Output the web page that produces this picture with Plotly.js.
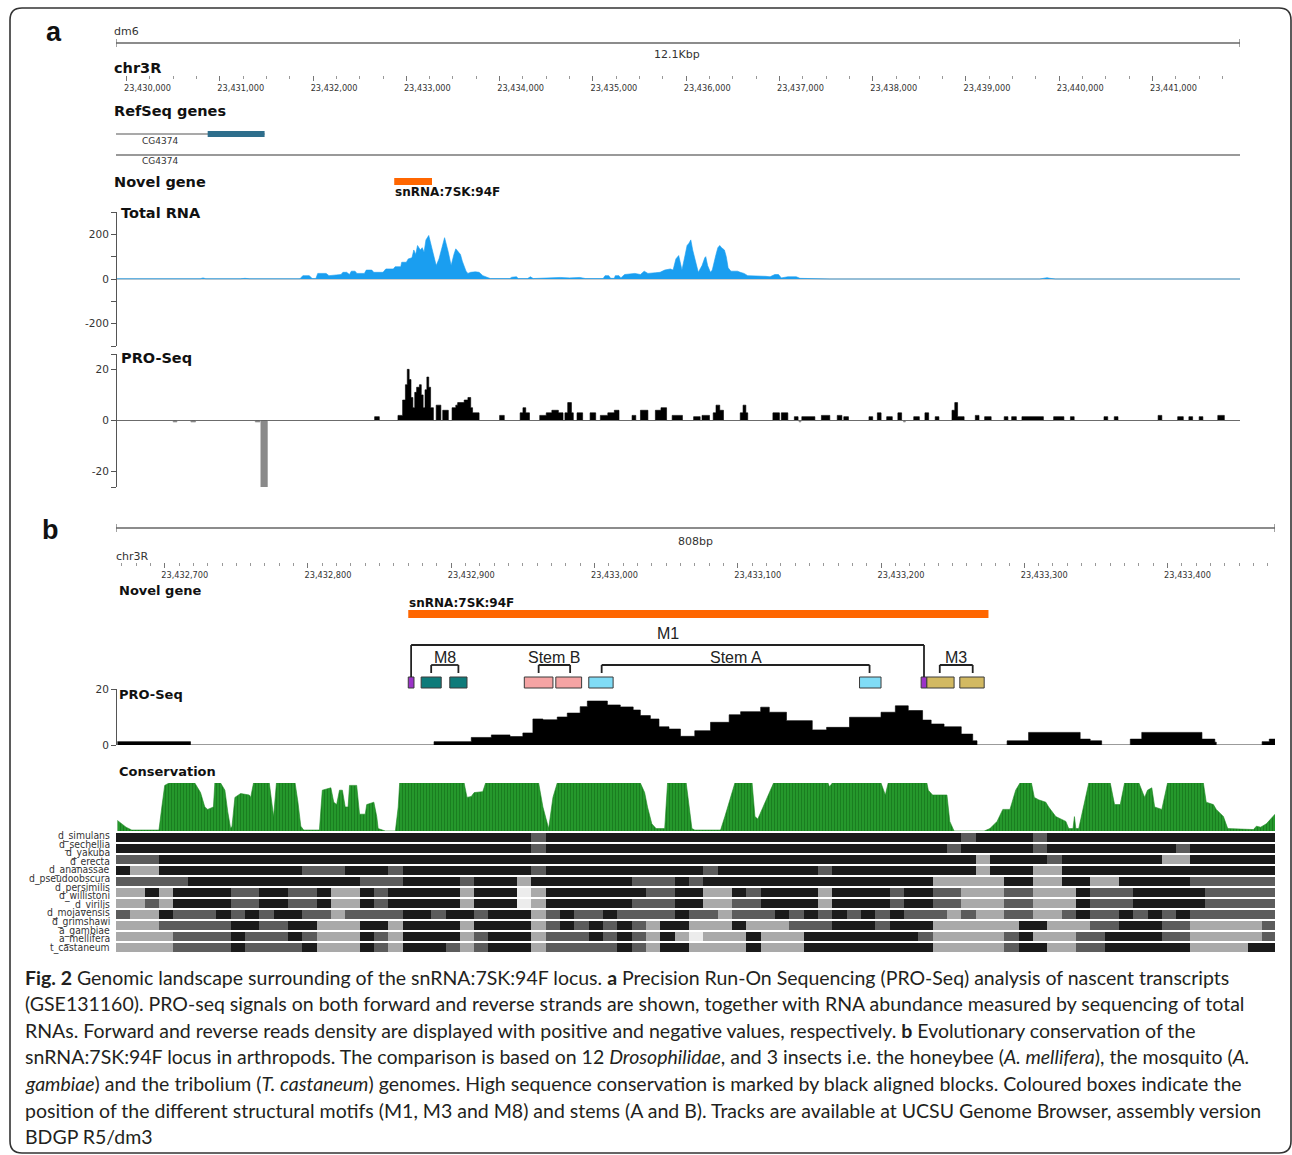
<!DOCTYPE html>
<html><head><meta charset="utf-8">
<script src="https://cdn.plot.ly/plotly-3.0.1.min.js"></script>
<style>html,body{margin:0;padding:0;background:#fff}#chart{width:1292px;height:1155px}</style>
</head><body><div id="chart"></div>
<script>
// ===================== DATA =====================
// Panel a window (chr3R, dm6)
const windowA = [23429887, 23441938];
// Panel b window
const windowB = [23432666, 23433475];

// RefSeq transcripts (panel a)
const refseqName = ['CG4374', 'CG4374'];
const refseqTxStart = [23427500, 23427500];
const refseqTxEnd = [23431480, 23443000];
const refseqExonStart = [23430870, null];
const refseqExonEnd = [23431480, null];

// Novel gene
const novelName = 'snRNA:7SK:94F';
const novelStart = 23432870;
const novelEnd = 23433275;

// Total RNA coverage (panel a)
const rnaPos = [23429887,23430250,23430330,23430380,23430790,23430820,23430850,23431220,23431270,23431320,
23431450,23431480,23431730,23431770,23431860,23431890,23431960,23431990,23432030,23432050,
23432140,23432170,23432300,23432320,23432360,23432390,23432410,23432450,23432470,23432550,
23432570,23432630,23432650,23432750,23432780,23432860,23432880,23432940,23432950,23433000,
23433020,23433060,23433080,23433100,23433120,23433150,23433170,23433190,23433210,23433240,
23433260,23433290,23433320,23433350,23433370,23433390,23433410,23433450,23433480,23433510,
23433530,23433550,23433580,23433600,23433620,23433640,23433660,23433690,23433740,23433780,
23433820,23433870,23433900,23434110,23434130,23434180,23434200,23434300,23434330,23434360,
23434430,23434490,23434540,23434650,23434750,23434860,23434920,23435110,23435130,23435170,
23435190,23435230,23435240,23435280,23435300,23435340,23435450,23435510,23435550,23435590,
23435670,23435720,23435770,23435830,23435860,23435890,23435920,23435940,23435955,23435990,
23436010,23436030,23436050,23436070,23436100,23436130,23436150,23436170,23436200,23436210,
23436230,23436260,23436280,23436300,23436320,23436340,23436360,23436380,23436410,23436430,
23436450,23436480,23436550,23436580,23436620,23436660,23436790,23436850,23436900,23436950,
23436990,23437020,23437090,23437180,23437220,23437330,23437490,23437540,23439790,23439840,
23439870,23439900,23439960,23441938];
const rnaVal = [1,1,3,1,1,5,1,1,3,1,
1,4,4,1,1,15,15,2,2,25,
25,15,20,30,30,20,35,35,25,25,
40,40,30,30,45,45,55,55,75,75,
90,95,130,110,150,130,140,120,175,195,
160,120,60,90,120,150,185,120,60,110,
135,125,110,80,60,35,25,30,32,30,
15,6,2,2,8,10,2,2,10,2,
3,6,4,7,5,7,2,2,15,15,
3,3,15,15,5,20,25,20,35,25,
28,30,40,45,40,90,105,60,40,110,
150,160,175,130,80,30,45,60,95,100,
60,30,40,80,110,140,150,140,130,100,
50,35,35,30,25,15,15,12,10,20,
20,5,10,10,3,2,2,0,0,3,
6,3,0,0];

// PRO-Seq forward strand (panel a), step values
const proFwdPos = [23429887,23432660,23432710,23432910,23432960,23432990,23433010,23433030,23433050,23433070,
23433090,23433110,23433140,23433160,23433180,23433200,23433220,23433240,23433260,23433290,
23433320,23433370,23433390,23433450,23433490,23433530,23433550,23433620,23433660,23433690,
23433710,23433780,23434000,23434050,23434220,23434250,23434280,23434320,23434430,23434500,
23434560,23434630,23434680,23434700,23434730,23434770,23434790,23434830,23434890,23434970,
23435030,23435080,23435160,23435230,23435280,23435420,23435460,23435510,23435590,23435670,
23435730,23435790,23435850,23435960,23436080,23436150,23436170,23436250,23436290,23436320,
23436360,23436400,23436580,23436610,23436640,23436660,23436930,23437000,23437020,23437090,
23437160,23437200,23437240,23437380,23437450,23437540,23437620,23437670,23437690,23437740,
23437960,23438000,23438050,23438090,23438150,23438210,23438270,23438310,23438440,23438500,
23438560,23438600,23438670,23438710,23438850,23438880,23438910,23438980,23439100,23439140,
23439200,23439270,23439410,23439450,23439490,23439540,23439600,23439830,23439940,23440050,
23440120,23440160,23440480,23440520,23440590,23440630,23441060,23441100,23441270,23441330,
23441390,23441430,23441500,23441540,23441700,23441770,23441938];
const proFwdVal = [0,1.5,0,2,8,14,20,16,9,5,
11,13,14,10,5,12,17,13,5,0,
6,0,4,0,5,6,7,8,9,5,
3,0,2,0,3,5,3,0,2,3,
4,3,0,3,7,3,0,3,0,3,
0,2,3,4,0,2,0,4,0,4,
5,0,2,0,1.5,0,2,0,3,6,
4,0,3,6,3,0,3,0,3,0,
1.5,0,1.5,0,2,0,2,0,1.5,0,
1.5,0,3,0,1.5,0,3,0,1.5,0,
3,0,1.5,0,4,7,1.5,0,2,0,
1.5,0,1.5,0,1.5,0,1.5,0,1.5,0,
1.5,0,1.5,0,1.5,0,2,0,1.5,0,
1.5,0,1.5,0,2,0,0];

// PRO-Seq reverse strand (panel a)
const proRevPos = [23429887,23430500,23430540,23430690,23430740,23431380,23431430,23431440,23431510,23437210,23437230,23438330,23438350,23441938];
const proRevVal = [0,-0.6,0,-0.6,0,-0.6,0,-27,0,-0.6,0,-0.6,0,0];

// PRO-Seq (panel b), step values
const proBPos = [23432667,23432718,23432888,23432914,23432928,23432941,23432950,23432957,23432964,23432974,
23432981,23432990,23432995,23433009,23433018,23433027,23433032,23433039,23433045,23433052,
23433060,23433070,23433081,23433094,23433102,23433116,23433122,23433134,23433152,23433162,
23433178,23433200,23433210,23433219,23433229,23433235,23433244,23433256,23433264,23433267,
23433288,23433303,23433339,23433346,23433354,23433374,23433382,23433424,23433433,23433434,
23433466,23433471,23433475];
const proBVal = [1.2,0,1.2,2.7,3.6,3.0,4.3,9.3,9.0,10,
11.4,13.7,15.7,14.3,13.6,12.5,10.5,9.3,6.5,5.7,
3.1,5.1,8.1,10.8,11.9,13.5,11.7,8.7,5.4,6.3,
9.9,11.7,14.0,12.3,8.9,7.5,6.5,3.9,1.5,0,
1.5,4.5,2.1,1.5,0,2.1,4.5,2.1,1.0,0,
1.2,2.1,2.1];

// Conservation (panel b), 0..1
const consPos = [23432667,23432673,23432677,23432696,23432698,23432700,23432703,23432721,23432723,23432725,
23432728,23432730,23432734,23432735,23432739,23432742,23432744,23432746,23432747,23432749,
23432753,23432759,23432760,23432762,23432773,23432775,23432776,23432778,23432791,23432793,
23432795,23432797,23432808,23432810,23432816,23432818,23432820,23432822,23432824,23432826,
23432828,23432829,23432834,23432836,23432840,23432841,23432846,23432848,23432849,23432854,
23432861,23432863,23432864,23432909,23432911,23432914,23432916,23432922,23432924,23432961,
23432964,23432968,23432969,23432971,23432974,23433032,23433035,23433037,23433040,23433043,
23433049,23433051,23433064,23433066,23433068,23433070,23433088,23433091,23433095,23433098,
23433110,23433112,23433114,23433117,23433119,23433122,23433125,23433163,23433164,23433166,
23433200,23433203,23433205,23433232,23433233,23433236,23433246,23433248,23433251,23433272,
23433276,23433281,23433285,23433290,23433294,23433297,23433305,23433307,23433310,23433315,
23433317,23433322,23433329,23433331,23433334,23433335,23433336,23433338,23433342,23433345,
23433360,23433363,23433367,23433370,23433380,23433384,23433386,23433389,23433391,23433396,
23433400,23433425,23433427,23433432,23433434,23433439,23433442,23433460,23433462,23433465,
23433469,23433475];
const consVal = [0.22,0.08,0.02,0.02,0.5,0.95,1,1,0.9,0.8,
0.5,0.45,0.5,1,1,0.85,0.4,0.05,0.1,0.7,
0.78,0.75,0.7,1,1,0.5,0.3,1,1,0.6,
0.1,0.02,0.02,0.85,0.9,0.6,0.55,0.85,0.85,0.5,
0.5,0.95,0.95,0.35,0.35,0.55,0.6,0.3,0.05,0,
0,0.5,1,1,0.7,0.72,0.8,0.82,1,1,
0.5,0.05,0.3,0.7,1,1,0.8,0.5,0.15,0.05,
0.05,1,1,0.5,0.05,0.02,0.02,0.3,0.7,1,
1,0.3,0.25,0.45,0.6,0.8,1,1,0.92,1,
1,0.75,1,1,0.85,0.75,0.75,0.2,0,0,
0.05,0.2,0.45,0.45,0.85,1,1,0.7,0.65,0.6,
0.5,0.3,0.2,0.05,0.05,0.3,0.05,0.05,0.6,1,
1,0.55,0.55,1,1,0.7,0.85,0.9,0.5,0.45,
1,1,0.6,0.55,0.45,0.3,0.05,0.03,0.1,0.08,
0.15,0.35];

// Structural motifs (panel b)
const motifType = ['M1','M8','M8','StemB','StemB','StemA','StemA','M1','M3','M3'];
const motifStart = [23432870,23432879,23432899,23432951,23432973,23432996,23433185,23433228,23433232,23433255];
const motifEnd   = [23432874,23432893,23432911,23432971,23432991,23433013,23433200,23433232,23433251,23433272];
const bracketLabel = ['M1','M8','Stem B','Stem A','M3'];
const bracketStart = [23432872,23432886,23432961,23433005,23433241];
const bracketEnd   = [23433230,23432905,23432983,23433192,23433264];
const bracketLevel = [1,0,0,0,0];

// Multiz alignment (panel b): 0 none, 1 weak, 2 partial, 3 strong; 10-bp bins
const alnBinStart = 23432666;
const alnBinSize = 10;
const alignmentRows = [
 "3333333333"+"3333333333"+"3333333332"+"3333333333"+"3333333333"+"3333333332"+"3333233333"+"3333333333"+"3",
 "3333333333"+"3333333333"+"3333333332"+"3333333333"+"3333333333"+"3333333323"+"3333233333"+"3333233333"+"3",
 "2223333333"+"3333333333"+"3333333333"+"3333333333"+"3333333333"+"3333333333"+"1333323333"+"3331133333"+"3",
 "3113333333"+"3332223332"+"3333333332"+"3333333333"+"3233333332"+"3333333333"+"1333113333"+"3333333333"+"3",
 "2222233333"+"3333333222"+"3333233313"+"3333332223"+"2333333333"+"3333333111"+"1133113311"+"3333322222"+"2",
 "1131333322"+"3322311323"+"3333133301"+"3333333223"+"3113233331"+"3333233221"+"1122111322"+"2333332222"+"2",
 "1121333322"+"3322311323"+"3333133301"+"3333332223"+"3112233331"+"3333233221"+"1122111322"+"2333332222"+"2",
 "2113222323"+"2332212222"+"3323323331"+"2322322223"+"2212223232"+"3232322212"+"1122112322"+"3232322222"+"2",
 "1112222233"+"2233111331"+"3333133331"+"2323232133"+"1113111222"+"3332333111"+"1113311122"+"3332211111"+"2",
 "1111222232"+"2232111321"+"3333123331"+"2223232131"+"0111311133"+"3333332111"+"1123111223"+"3332211111"+"2",
 "1111222232"+"2223111321"+"3332123331"+"2222232133"+"1111311133"+"3333333111"+"1123311223"+"3333311113"+"3"
];
const species = ['d_simulans','d_sechellia','d_yakuba','d_erecta','d_ananassae','d_pseudoobscura','d_persimilis',
 'd_willistoni','d_virilis','d_mojavensis','d_grimshawi','a_gambiae','a_mellifera','t_castaneum'];

const captionLines = [
 "<b>Fig. 2</b> Genomic landscape surrounding of the snRNA:7SK:94F locus. <b>a</b> Precision Run-On Sequencing (PRO-Seq) analysis of nascent transcripts",
 "(GSE131160). PRO-seq signals on both forward and reverse strands are shown, together with RNA abundance measured by sequencing of total",
 "RNAs. Forward and reverse reads density are displayed with positive and negative values, respectively. <b>b</b> Evolutionary conservation of the",
 "snRNA:7SK:94F locus in arthropods. The comparison is based on 12 <i>Drosophilidae</i>, and 3 insects i.e. the honeybee (<i>A. mellifera</i>), the mosquito (<i>A.</i>",
 "<i>gambiae</i>) and the tribolium (<i>T. castaneum</i>) genomes. High sequence conservation is marked by black aligned blocks. Coloured boxes indicate the",
 "position of the different structural motifs (M1, M3 and M8) and stems (A and B). Tracks are available at UCSU Genome Browser, assembly version",
 "BDGP R5/dm3"
];

// ===================== STYLE / LAYOUT =====================
const W = 1292, H = 1155;
const px = x => x / W;
const py = y => 1 - y / H;
const dom = (top, bottom) => [1 - bottom / H, 1 - top / H];
const SANS = 'DejaVu Sans, Verdana, sans-serif';
const ARIAL = 'Liberation Sans, Arial, sans-serif';
const NARROW = 'Liberation Sans Narrow, DejaVu Sans Condensed, Arial Narrow, sans-serif';
const motifColor = {M1:'#9b33c8', M8:'#0e7b7a', StemB:'#f5a4a4', StemA:'#80dcf6', M3:'#d2b962'};

const traces = [];
// anchors for rulers
traces.push({type:'scatter', x:[windowA[0]], y:[0.5], xaxis:'x', yaxis:'y', mode:'markers', marker:{opacity:0}, hoverinfo:'skip'});
traces.push({type:'scatter', x:[windowB[0]], y:[0.5], xaxis:'x2', yaxis:'y5', mode:'markers', marker:{opacity:0}, hoverinfo:'skip'});

// Total RNA
traces.push({type:'scatter', x:rnaPos, y:rnaVal, xaxis:'x', yaxis:'y2', mode:'lines',
  line:{color:'#1a9ef0', width:0.6}, fill:'tozeroy', fillcolor:'#1a9ef0', hoverinfo:'skip'});
// PRO-Seq panel a
traces.push({type:'scatter', x:proFwdPos, y:proFwdVal, xaxis:'x', yaxis:'y3', mode:'lines',
  line:{color:'#000', width:0.6, shape:'hv'}, fill:'tozeroy', fillcolor:'#000', hoverinfo:'skip'});
traces.push({type:'scatter', x:proRevPos, y:proRevVal, xaxis:'x', yaxis:'y3', mode:'lines',
  line:{color:'#8a8a8a', width:0.6, shape:'hv'}, fill:'tozeroy', fillcolor:'#8a8a8a', hoverinfo:'skip'});
// RefSeq genes
refseqName.forEach((n, i) => {
  traces.push({type:'scatter', x:[refseqTxStart[i], refseqTxEnd[i]], y:[i, i], xaxis:'x', yaxis:'y4',
    mode:'lines', line:{color: i === 0 ? '#555' : '#777', width: i === 0 ? 1.2 : 1.6}, hoverinfo:'skip'});
  if (refseqExonStart[i] !== null) {
    traces.push({type:'scatter', x:[refseqExonStart[i], refseqExonEnd[i]], y:[i, i], xaxis:'x', yaxis:'y4',
      mode:'lines', line:{color:'#2e6e8c', width:6}, hoverinfo:'skip'});
  }
});
// PRO-Seq panel b
traces.push({type:'scatter', x:proBPos, y:proBVal, xaxis:'x2', yaxis:'y6', mode:'lines',
  line:{color:'#000', width:0.6, shape:'hv'}, fill:'tozeroy', fillcolor:'#000', hoverinfo:'skip'});
// Conservation
traces.push({type:'scatter', x:consPos, y:consVal, xaxis:'x2', yaxis:'y7', mode:'lines',
  line:{color:'#1d8a22', width:0.6}, fill:'tozeroy', fillcolor:'#22942a',
  fillpattern:{shape:'|', fgcolor:'#17761c', bgcolor:'#25982c', size:3, solidity:0.25}, hoverinfo:'skip'});
// Alignment heatmap
const alnZ = alignmentRows.map(s => s.split('').map(Number));
const alnX = alnZ[0].map((_, i) => alnBinStart + alnBinSize * (i + 0.5));
traces.push({type:'heatmap', x:alnX, y:alnZ.map((_, i) => i), z:alnZ, xaxis:'x2', yaxis:'y8',
  zmin:0, zmax:3, showscale:false, ygap:2, xgap:0, hoverinfo:'skip',
  colorscale:[[0,'#ececec'],[0.1667,'#ececec'],[0.1667,'#a9a9a9'],[0.5,'#a9a9a9'],[0.5,'#5c5c5c'],[0.8333,'#5c5c5c'],[0.8333,'#1b1b1b'],[1,'#1b1b1b']]});

const hidden = (d, r) => ({domain:d, range:r, visible:false, fixedrange:true});
const trackY = (d, r, tv, tt) => ({domain:d, range:r, anchor:'free', position:px(116), showline:true, linecolor:'#555', linewidth:1,
  ticks:'outside', ticklen:5, tickcolor:'#555', tickwidth:1, tickvals:tv, ticktext:tt, showgrid:false, zeroline:false,
  tickfont:{family:SANS, size:10.5, color:'#333'}, fixedrange:true});

const shapes = [];
// frame
(() => {
  const r = 12, L = 10, T = 8, R = 1291, B = 1153;
  const p = `M ${px(L)},${py(T + r)} Q ${px(L)},${py(T)} ${px(L + r)},${py(T)} L ${px(R - r)},${py(T)} Q ${px(R)},${py(T)} ${px(R)},${py(T + r)} L ${px(R)},${py(B - r)} Q ${px(R)},${py(B)} ${px(R - r)},${py(B)} L ${px(L + r)},${py(B)} Q ${px(L)},${py(B)} ${px(L)},${py(B - r)} Z`;
  shapes.push({type:'path', xref:'paper', yref:'paper', path:p, line:{color:'#333', width:1.6}});
})();
// rulers
function ruler(xref, win, y) {
  shapes.push({type:'line', xref, yref:'paper', x0:win[0], x1:win[1], y0:py(y), y1:py(y), line:{color:'#666', width:1.6}});
  shapes.push({type:'line', xref, yref:'paper', x0:win[0], x1:win[0], y0:py(y - 4), y1:py(y + 4), line:{color:'#666', width:1.2}});
  shapes.push({type:'line', xref, yref:'paper', x0:win[1], x1:win[1], y0:py(y - 4), y1:py(y + 4), line:{color:'#666', width:1.2}});
}
ruler('x', windowA, 43);
ruler('x2', windowB, 528);
// zero lines
shapes.push({type:'line', xref:'x', yref:'y2', x0:windowA[0], x1:windowA[1], y0:0, y1:0, line:{color:'#9a9a9a', width:1.2}, layer:'below'});
shapes.push({type:'line', xref:'x', yref:'y3', x0:windowA[0], x1:windowA[1], y0:0, y1:0, line:{color:'#9a9a9a', width:1.2}, layer:'below'});
shapes.push({type:'line', xref:'x2', yref:'y6', x0:windowB[0], x1:windowB[1], y0:0, y1:0, line:{color:'#bbb', width:1.2}, layer:'below'});
// novel gene bars
shapes.push({type:'rect', xref:'x', yref:'paper', x0:novelStart, x1:novelEnd, y0:py(185), y1:py(178), fillcolor:'#ff6600', line:{width:0}});
shapes.push({type:'rect', xref:'x2', yref:'paper', x0:novelStart, x1:novelEnd, y0:py(618), y1:py(610), fillcolor:'#ff6600', line:{width:0}});
// motif boxes
motifType.forEach((t, i) => {
  shapes.push({type:'rect', xref:'x2', yref:'paper', x0:motifStart[i], x1:motifEnd[i], y0:py(688), y1:py(677),
    fillcolor:motifColor[t], line:{color:'#3a3a3a', width:1}});
});
// brackets
const annotations = [];
bracketLabel.forEach((lab, i) => {
  const top = bracketLevel[i] ? 645 : 665;
  const bot = bracketLevel[i] ? 677 : 673;
  const ln = {color:'#222', width:1.8};
  shapes.push({type:'line', xref:'x2', yref:'paper', x0:bracketStart[i], x1:bracketEnd[i], y0:py(top), y1:py(top), line:ln});
  shapes.push({type:'line', xref:'x2', yref:'paper', x0:bracketStart[i], x1:bracketStart[i], y0:py(top), y1:py(bot), line:ln});
  shapes.push({type:'line', xref:'x2', yref:'paper', x0:bracketEnd[i], x1:bracketEnd[i], y0:py(top), y1:py(bot), line:ln});
  annotations.push({xref:'x2', yref:'paper', x:(bracketStart[i] + bracketEnd[i]) / 2, y:py(bracketLevel[i] ? 633 : 657), text:lab, showarrow:false,
    xanchor:'center', yanchor:'middle', font:{family:ARIAL, size:16, color:'#222'}});
});

function txt(x, y, text, size, opts = {}) {
  annotations.push({xref:opts.xref || 'paper', yref:'paper', x:opts.xref ? x : px(x), y:py(y), text, showarrow:false,
    xanchor:opts.anchor || 'left', yanchor:'middle', borderpad:0,
    font:{family:opts.family || SANS, size, color:opts.color || '#222'}});
}
txt(54, 32, '<b>a</b>', 27, {anchor:'center', family:ARIAL, color:'#111'});
txt(113, 32, 'dm6', 11, {color:'#333'});
txt(677, 54, '12.1Kbp', 11, {anchor:'center', color:'#333'});
txt(113, 68, '<b>chr3R</b>', 14.5, {color:'#111'});
txt(113, 111, '<b>RefSeq genes</b>', 14.5, {color:'#111'});
txt(160, 141, refseqName[0], 9, {anchor:'center', color:'#333'});
txt(160, 161, refseqName[1], 9, {anchor:'center', color:'#333'});
txt(113, 182, '<b>Novel gene</b>', 14.5, {color:'#111'});
txt(novelStart, 192, '<b>' + novelName + '</b>', 12, {xref:'x', color:'#111'});
txt(120, 213, '<b>Total RNA</b>', 14.5, {color:'#111'});
txt(120, 358, '<b>PRO-Seq</b>', 14.5, {color:'#111'});
txt(50, 530, '<b>b</b>', 27, {anchor:'center', family:ARIAL, color:'#111'});
txt(695, 541, '808bp', 11, {anchor:'center', color:'#333'});
txt(115, 556, 'chr3R', 11, {color:'#333'});
txt(118, 591, '<b>Novel gene</b>', 13, {color:'#111'});
txt(novelStart, 603, '<b>' + novelName + '</b>', 12, {xref:'x2', color:'#111'});
txt(118, 694, '<b>PRO-Seq</b>', 13, {color:'#111'});
txt(118, 771, '<b>Conservation</b>', 13, {color:'#111'});
species.forEach((s, i) => txt(111, 835.5 + i * 8.6, s, 10.3, {anchor:'right', family:NARROW, color:'#333'}));
captionLines.forEach((l, i) => txt(24, 977 + i * 26.6, l, 19.5, {family:'Lato, Open Sans, sans-serif', color:'#231f20'}));

const layout = {
  width:W, height:H, margin:{l:0, r:0, t:0, b:0}, paper_bgcolor:'#fff', plot_bgcolor:'rgba(0,0,0,0)',
  showlegend:false, hovermode:false,
  xaxis:{domain:[px(116), px(1240)], range:windowA, anchor:'y', showline:false, showgrid:false, zeroline:false,
    ticks:'outside', tickmode:'linear', tick0:23430000, dtick:1000, ticklen:5, tickwidth:1, tickcolor:'#777',
    tickformat:',d', ticklabelshift:21, tickfont:{family:SANS, size:8.2, color:'#333'},
    minor:{ticks:'outside', tick0:23430000, dtick:250, ticklen:3, tickcolor:'#999', showgrid:false}, fixedrange:true},
  yaxis:hidden(dom(68, 75), [0, 1]),
  yaxis2:trackY(dom(212, 346), [-300, 300], [-300,-200,-100,0,100,200,300], ['','-200','','0','','200','']),
  yaxis3:trackY(dom(354, 487), [-26, 26], [-26,-20,0,20,26], ['','-20','0','20','']),
  yaxis4:hidden(dom(124, 165), [1.476, -0.476]),
  xaxis2:{domain:[px(116), px(1275)], range:windowB, anchor:'y5', showline:false, showgrid:false, zeroline:false,
    ticks:'outside', tickmode:'linear', tick0:23432700, dtick:100, ticklen:5, tickwidth:1, tickcolor:'#777',
    tickformat:',d', ticklabelshift:20, tickfont:{family:SANS, size:8.2, color:'#333'},
    minor:{ticks:'outside', tick0:23432700, dtick:10, ticklen:3, tickcolor:'#999', showgrid:false}, fixedrange:true},
  yaxis5:hidden(dom(555, 562), [0, 1]),
  yaxis6:trackY(dom(689, 745), [0, 20], [0, 20], ['0', '20']),
  yaxis7:hidden(dom(783, 831), [0, 1]),
  yaxis8:hidden(dom(832, 953), [10.5, -0.5]),
  shapes, annotations
};

Plotly.newPlot('chart', traces, layout, {staticPlot:true, displayModeBar:false});
</script>
</body></html>
